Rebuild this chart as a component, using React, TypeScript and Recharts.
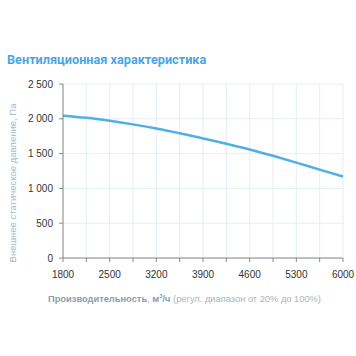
import { LineChart, Line, XAxis, YAxis, CartesianGrid } from "recharts"

const flow = [1800, 2150, 2500, 2850, 3200, 3550, 3900, 4250, 4600, 4950, 5300, 5650, 6000]
const pressure = [2045, 2015, 1972, 1920, 1860, 1792, 1718, 1642, 1560, 1468, 1370, 1270, 1170]
const xTicks = [1800, 2150, 2500, 2850, 3200, 3550, 3900, 4250, 4600, 4950, 5300, 5650, 6000]
const xLabels = [1800, 2500, 3200, 3900, 4600, 5300, 6000]
const yTicks = [0, 500, 1000, 1500, 2000, 2500]

const data = flow.map((f, i) => ({ flow: f, pressure: pressure[i] }))

const fmtY = (v: number) => (v >= 1000 ? `${Math.floor(v / 1000)} ${String(v % 1000).padStart(3, "0")}` : `${v}`)

export default function App() {
  return (
    <div style={{ position: "absolute", left: 0, top: 0, width: 356, height: 356, background: "#fff", fontFamily: "Roboto, sans-serif" }}>
      <div style={{ position: "absolute", left: 7, top: 52, fontSize: 12.7, fontWeight: 700, color: "#4aa6df", whiteSpace: "nowrap" }}>
        Вентиляционная характеристика
      </div>
      <div
        style={{
          position: "absolute",
          left: 12,
          top: 183,
          transform: "translate(-50%, -50%) rotate(-90deg)",
          fontSize: 9.5,
          color: "#a8b8cb",
          fontFamily: "Liberation Sans, Arial",
          whiteSpace: "nowrap",
        }}
      >
        Внешнее статическое давление, Па
      </div>
      <LineChart width={356} height={356} data={data} margin={{ top: 84, right: 13, bottom: 68, left: 23 }}>
        <CartesianGrid stroke="#e6eef5" strokeWidth={1} />
        <XAxis
          dataKey="flow"
          type="number"
          domain={[1800, 6000]}
          ticks={xTicks}
          interval={0}
          height={30}
          tickFormatter={(v: number) => (xLabels.includes(v) ? String(v) : "")}
          tick={{ fontSize: 10, fill: "#333", fontFamily: "Liberation Sans, Arial" }}
          axisLine={{ stroke: "#888" }}
          tickLine={{ stroke: "#888" }}
          tickSize={4}
          tickMargin={9}
        />
        <YAxis
          type="number"
          domain={[0, 2500]}
          ticks={yTicks}
          interval={0}
          width={40}
          tickFormatter={fmtY}
          tick={{ fontSize: 10, fill: "#333", fontFamily: "Liberation Sans, Arial" }}
          axisLine={{ stroke: "#888" }}
          tickLine={{ stroke: "#888" }}
          tickSize={4}
          tickMargin={6}
        />
        <Line
          dataKey="pressure"
          type="monotone"
          stroke="#4fb0e3"
          strokeWidth={2.5}
          dot={false}
          isAnimationActive={false}
        />
      </LineChart>
      <div style={{ position: "absolute", left: 48, top: 293, fontSize: 9.3, color: "#a8b4c2", fontFamily: "Liberation Sans, Arial", whiteSpace: "nowrap" }}>
        <span style={{ fontWeight: 700, color: "#8a9cb0" }}>Производительность</span>, <span style={{ fontWeight: 700, color: "#8a9cb0" }}>м<sup style={{ fontSize: 6 }}>3</sup>/ч</span> (регул. диапазон от 20% до 100%)
      </div>
    </div>
  )
}
